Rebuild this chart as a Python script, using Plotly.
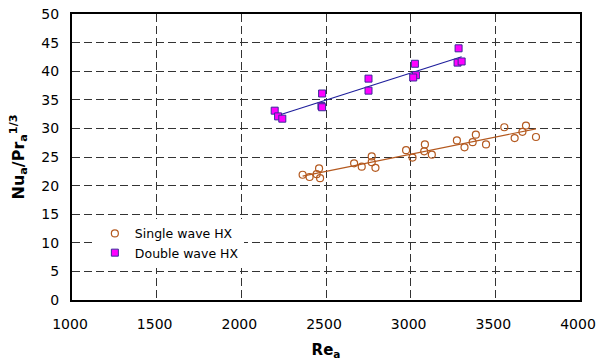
import numpy as np
import plotly.graph_objects as go

# Single wave HX data (Re_a, Nu_a/Pr_a^1/3)
single_re = [2362, 2403, 2445, 2459, 2465, 2666, 2711, 2770, 2770, 2792,
             2973, 3011, 3080, 3084, 3125, 3273, 3318, 3366, 3385, 3445,
             3553, 3614, 3660, 3681, 3740]
single_nu = [21.9, 21.5, 22.0, 23.0, 21.3, 23.9, 23.3, 25.1, 24.1, 23.1,
             26.2, 24.9, 26.0, 27.2, 25.4, 27.9, 26.7, 27.6, 28.9, 27.2,
             30.2, 28.3, 29.4, 30.5, 28.5]

# Double wave HX data
double_re = [2197, 2217, 2242, 2477, 2473, 2477, 2751, 2751,
             3025, 3031, 3015, 3283, 3277, 3301]
double_nu = [33.1, 32.1, 31.7, 36.1, 33.9, 33.7, 38.7, 36.6,
             41.3, 39.3, 38.9, 44.0, 41.5, 41.7]

x_ticks = [1000, 1500, 2000, 2500, 3000, 3500, 4000]
y_ticks = [0, 5, 10, 15, 20, 25, 30, 35, 40, 45, 50]

SINGLE_COLOR = "#B4591F"
DOUBLE_FILL = "#FF00FF"
DOUBLE_EDGE = "#3A2A9A"
DOUBLE_LINE = "#1E1E9C"
FONT = "DejaVu Sans"


def fit_line(xs, ys):
    k, b = np.polyfit(xs, ys, 1)
    xr = np.array([min(xs), max(xs)])
    return xr, k * xr + b


fig = go.Figure()

sx, sy = fit_line(single_re, single_nu)
dx, dy = fit_line(double_re, double_nu)

fig.add_trace(go.Scatter(x=sx, y=sy, mode="lines", showlegend=False,
                         line=dict(color=SINGLE_COLOR, width=1.2), hoverinfo="skip"))
fig.add_trace(go.Scatter(x=dx, y=dy, mode="lines", showlegend=False,
                         line=dict(color=DOUBLE_LINE, width=1.2), hoverinfo="skip"))

fig.add_trace(go.Scatter(
    x=single_re, y=single_nu, mode="markers", name="Single wave HX",
    marker=dict(symbol="circle-open", size=7, color=SINGLE_COLOR,
                line=dict(width=1.2, color=SINGLE_COLOR))))
fig.add_trace(go.Scatter(
    x=double_re, y=double_nu, mode="markers", name="Double wave HX",
    marker=dict(symbol="square", size=7, color=DOUBLE_FILL,
                line=dict(width=1, color=DOUBLE_EDGE))))

axis_common = dict(
    showline=True, linewidth=2, linecolor="black", mirror=True,
    showgrid=True, gridcolor="#333333", gridwidth=1, griddash="8px,4px",
    zeroline=False, ticks="", automargin=False,
    tickfont=dict(family=FONT, size=14, color="black"),
)

fig.update_xaxes(
    range=[1000, 4000], tickvals=x_ticks, ticktext=[str(v) for v in x_ticks],
    ticklabelstandoff=10, ticklabelshift=-2,
    title=dict(text="<b>Re<sub>a</sub></b>", font=dict(family=FONT, size=15, color="black"),
               standoff=14),
    **axis_common)
fig.update_yaxes(
    range=[0, 50], tickvals=y_ticks, ticktext=[str(v) for v in y_ticks],
    ticklabelstandoff=8,
    title=dict(text="<b>Nu<sub>a</sub>/Pr<sub>a</sub><sup>1/3</sup></b>",
               font=dict(family=FONT, size=16, color="black"), standoff=13),
    **axis_common)

fig.update_layout(
    width=597, height=363,
    margin=dict(l=72, r=17, t=14, b=63, autoexpand=False),
    paper_bgcolor="white", plot_bgcolor="white",
    font=dict(family=FONT, color="black"),
    legend=dict(x=0.045, y=0.284, xanchor="left", yanchor="top",
                bgcolor="white", borderwidth=0,
                font=dict(family=FONT, size=12.5, color="black"),
                tracegroupgap=0),
)

# remove the browser's default 8px body margin so the figure sits at the window origin
fig.write_html("out.html", config={"displayModeBar": False},
               post_script="document.body.style.margin='0px';")
